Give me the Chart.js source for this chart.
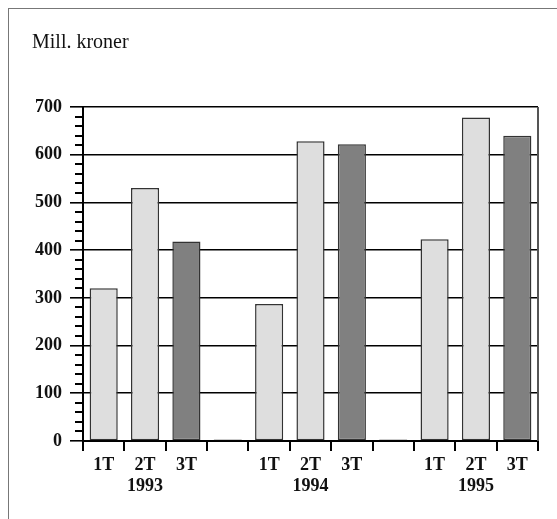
<!DOCTYPE html>
<html>
<head>
<meta charset="utf-8">
<script src="https://cdn.jsdelivr.net/npm/chart.js@4/dist/chart.umd.min.js"></script>
<style>
  html, body { margin: 0; padding: 0; background: #fff; overflow: hidden; }
  #wrap { position: relative; width: 557px; height: 519px; }
  #frame { position: absolute; left: 8px; top: 8px; width: 560px; height: 520px;
           border-left: 1px solid #777; border-top: 1px solid #777; }
  #unit { position: absolute; left: 32px; top: 30px; font-family: "Liberation Serif", serif;
          font-size: 20px; color: #111; }
</style>
</head>
<body>
<div id="wrap">
  <div id="frame"></div>
  <div id="unit">Mill. kroner</div>
  <canvas id="chart"></canvas>
</div>
<script>
// quarters, with an empty slot between the years
const quarters = ['1T', '2T', '3T', '', '1T', '2T', '3T', '', '1T', '2T', '3T'];
const years = ['', '1993', '', '', '', '1994', '', '', '', '1995', ''];
const values = [320, 530, 418, 3, 287, 628, 622, 3, 423, 678, 640];
const yTicks = [0, 100, 200, 300, 400, 500, 600, 700];

const light = '#dedede';
const dark = '#808080';
// 3T bars are the dark ones
const barColors = quarters.map(q => q === '3T' ? dark : (q === '' ? '#222' : light));

const labels = quarters.map((q, i) => years[i] ? [q, years[i]] : q);

// minor ticks on the y axis and the right border of the plot
const extras = {
  id: 'extras',
  afterDraw(chart) {
    const ctx = chart.ctx;
    const y = chart.scales.y;
    const area = chart.chartArea;
    ctx.save();
    ctx.strokeStyle = '#000';
    ctx.lineWidth = 2;
    for (let v = 20; v < 700; v += 20) {
      if (v % 100 === 0) continue;
      const py = Math.round(y.getPixelForValue(v));
      ctx.beginPath();
      ctx.moveTo(area.left - 8, py);
      ctx.lineTo(area.left, py);
      ctx.stroke();
    }
    ctx.strokeStyle = '#555';
    ctx.beginPath();
    ctx.moveTo(area.right, area.top);
    ctx.lineTo(area.right, area.bottom);
    ctx.stroke();
    ctx.restore();
  }
};

new Chart('chart', {
  type: 'bar',
  data: {
    labels: labels,
    datasets: [{
      data: values,
      backgroundColor: barColors,
      borderColor: '#333',
      borderWidth: 1.5,
      borderSkipped: false,
      barPercentage: 0.68,
      categoryPercentage: 1
    }]
  },
  options: {
    responsive: true,
    maintainAspectRatio: false,
    animation: false,
    layout: { padding: { left: 0, right: 19, top: 107, bottom: 0 } },
    plugins: {
      legend: { display: false },
      tooltip: { enabled: false }
    },
    scales: {
      x: {
        afterFit: s => { s.height = 78; },
        grid: {
          drawOnChartArea: false,
          color: '#000',
          lineWidth: 2,
          tickLength: 10,
          offset: true
        },
        border: { color: '#000', width: 2 },
        ticks: {
          color: '#111',
          padding: 4,
          maxRotation: 0,
          autoSkip: false,
          font: { family: 'Liberation Serif', size: 18, weight: 'bold', lineHeight: 1.15 }
        }
      },
      y: {
        min: 0,
        max: 700,
        afterFit: s => { s.width = 83; },
        afterBuildTicks: s => { s.ticks = yTicks.map(v => ({ value: v })); },
        grid: {
          color: '#000',
          lineWidth: 1.6,
          tickLength: 13
        },
        border: { color: '#000', width: 2 },
        ticks: {
          color: '#111',
          padding: 8,
          font: { family: 'Liberation Serif', size: 18, weight: 'bold' }
        }
      }
    }
  },
  plugins: [extras]
});
</script>
</body>
</html>
